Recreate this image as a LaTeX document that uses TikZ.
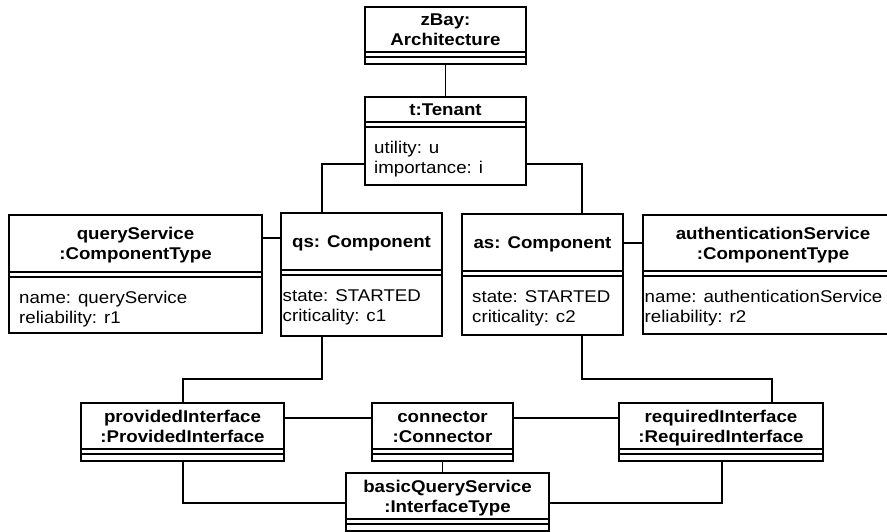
\documentclass[tikz,border=0pt]{standalone}
\usepackage{fontspec}
\setmainfont{Liberation Sans}[FakeStretch=1.1]
\usetikzlibrary{calc}

\tikzset{
  objshape/.style={draw, line width=1.8pt, rectangle, inner sep=0pt, outer sep=0pt,
                   anchor=north west, fill=white},
  divider/.style={line width=1.8pt},
  link/.style={line width=1.6pt},
  titlelabel/.style={font=\fontsize{17}{20}\selectfont\bfseries, inner sep=0pt, anchor=base},
  attrlabel/.style={font=\fontsize{17}{20}\selectfont, inner sep=0pt, anchor=base west},
}

% object box: name, left, top, right, bottom, y of the first compartment divider
\newcommand\umlobject[6]{%
  \pgfmathsetmacro\objw{#4-#2}%
  \pgfmathsetmacro\objh{#5-#3}%
  \node[objshape, minimum width=\objw pt, minimum height=\objh pt] (#1) at (#2,#3) {};
  \coordinate (#1-div) at (#2,#6);
  \draw[divider] (#2,#6) -- (#4,#6) (#2,#6+5) -- (#4,#6+5);
}
% one-line object name, centred in the name compartment
\newcommand\nameone[2]{%
  \node[titlelabel, yshift=-6.1pt] (#1-name) at ($(#1.north)!0.5!(#1.north|-#1-div)$) {#2};
}
% two-line object name
\newcommand\nametwo[3]{%
  \node[titlelabel, yshift=3.9pt] (#1-name) at ($(#1.north)!0.5!(#1.north|-#1-div)$) {#2};
  \node[titlelabel, yshift=-16.1pt] (#1-type) at ($(#1.north)!0.5!(#1.north|-#1-div)$) {#3};
}
% two attribute lines: name, left padding, line 1, line 2
\newcommand\attrlines[4]{%
  \node[attrlabel] (#1-a1) at ($(#1-div)+(#2,31.2)$) {#3};
  \node[attrlabel] (#1-a2) at ($(#1-div)+(#2,51.7)$) {#4};
}

\begin{document}
\begin{tikzpicture}[x=1pt, y=-1pt]
  \useasboundingbox (0,0) rectangle (887,531);
  \fill[white] (0,0) rectangle (887,531);
  \clip (0,0) rectangle (887,531);

  % objects
  \umlobject{zbay}{365}{7}{526}{64}{52}
  \nametwo{zbay}{zBay:}{Architecture}

  \umlobject{tenant}{365}{97}{526}{185}{122}
  \nameone{tenant}{t:Tenant}
  \attrlines{tenant}{9}{utility: u}{importance: i}

  \umlobject{qtype}{9}{215}{262}{333}{272}
  \nametwo{qtype}{queryService}{:ComponentType}
  \attrlines{qtype}{10}{name: queryService}{reliability: r1}

  \umlobject{qs}{281}{213}{442}{336}{270}
  \nameone{qs}{qs: Component}
  \attrlines{qs}{1.5}{state: STARTED}{criticality: c1}

  \umlobject{as}{462}{214}{623}{335}{271}
  \nameone{as}{as: Component}
  \attrlines{as}{10}{state: STARTED}{criticality: c2}

  \umlobject{atype}{643}{215}{903}{334}{271}
  \nametwo{atype}{authenticationService}{:ComponentType}
  \attrlines{atype}{1.5}{name: authenticationService}{reliability: r2}

  \umlobject{pi}{81}{403}{284}{461}{449}
  \nametwo{pi}{providedInterface}{:ProvidedInterface}

  \umlobject{conn}{372}{403}{513}{461}{449}
  \nametwo{conn}{connector}{:Connector}

  \umlobject{ri}{619}{403}{823}{461}{449}
  \nametwo{ri}{requiredInterface}{:RequiredInterface}

  \umlobject{bqs}{346}{473}{549}{531}{519}
  \nametwo{bqs}{basicQueryService}{:InterfaceType}

  % routing points of the links
  \coordinate (tq) at (322,164);
  \coordinate (ta) at (582,164);
  \coordinate (qlink) at (0,238);
  \coordinate (alink) at (0,243);
  \coordinate (qbend) at (322,379);
  \coordinate (pbend) at (183,379);
  \coordinate (abend) at (582,379);
  \coordinate (rbend) at (772,379);
  \coordinate (rowlink) at (0,418);
  \coordinate (pbot) at (183,503);
  \coordinate (rbot) at (722,503);

  % links
  \draw[link] (zbay.south) -- (tenant.north);
  \draw[link] (tenant.west |- tq) -- (tq) -- (qs.north -| tq);
  \draw[link] (tenant.east |- ta) -- (ta) -- (as.north -| ta);
  \draw[link] (qtype.east |- qlink) -- (qs.west |- qlink);
  \draw[link] (as.east |- alink) -- (atype.west |- alink);
  \draw[link] (qs.south -| qbend) -- (qbend) -- (pbend) -- (pi.north -| pbend);
  \draw[link] (as.south -| abend) -- (abend) -- (rbend) -- (ri.north -| rbend);
  \draw[link] (pi.east |- rowlink) -- (conn.west |- rowlink);
  \draw[link] (conn.east |- rowlink) -- (ri.west |- rowlink);
  \draw[link] (conn.south) -- (conn.south |- bqs.north);
  \draw[link] (pi.south -| pbot) -- (pbot) -- (bqs.west |- pbot);
  \draw[link] (ri.south -| rbot) -- (rbot) -- (bqs.east |- rbot);
\end{tikzpicture}
\end{document}
